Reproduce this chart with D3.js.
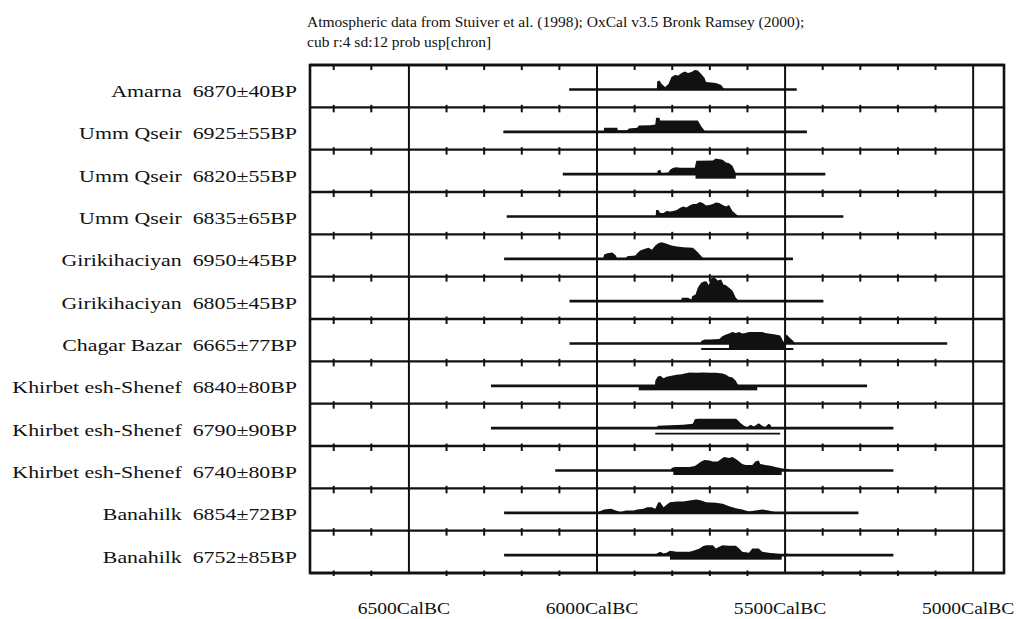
<!DOCTYPE html>
<html>
<head>
<meta charset="utf-8">
<script src="https://cdn.jsdelivr.net/npm/d3@7"></script>
<style>
  body { margin: 0; background: #fff; }
  text { font-family: "Liberation Serif", "Times New Roman", serif; fill: #111; }
</style>
</head>
<body>
<svg id="canvas" width="1021" height="619"></svg>
<script>
let titleLines = [
  "Atmospheric data from Stuiver et al. (1998); OxCal v3.5 Bronk Ramsey (2000);",
  "cub r:4 sd:12 prob usp[chron]"
];

let sites = ["Amarna", "Umm Qseir", "Umm Qseir", "Umm Qseir", "Girikihaciyan", "Girikihaciyan",
  "Chagar Bazar", "Khirbet esh-Shenef", "Khirbet esh-Shenef", "Khirbet esh-Shenef", "Banahilk", "Banahilk"];
let dates = ["6870±40BP", "6925±55BP", "6820±55BP", "6835±65BP", "6950±45BP", "6805±45BP",
  "6665±77BP", "6840±80BP", "6790±90BP", "6740±80BP", "6854±72BP", "6752±85BP"];

// full extent of each calibrated range line (cal BC)
let rangeFrom = [6074, 6249, 6091, 6240, 6247, 6073, 6073, 6282, 6282, 6111, 6247, 6247];
let rangeTo = [5469, 5442, 5393, 5345, 5479, 5398, 5069, 5282, 5212, 5212, 5305, 5212];

// bars drawn under the distributions
let range68 = [null, null, [5738, 5631], null, null, null, [5649, 5500], [5889, 5574], null, [5797, 5509], null, [5806, 5509]];
let range95 = [null, null, null, null, null, null, [5723, 5478], null, [5845, 5513], null, null, null];

// probability distributions: [cal BC, relative probability]
let amarna = [[5841,0],[5840,0.40],[5834,0.45],[5828,0.28],[5819,0.12],[5810,0.28],[5802,0.62],[5793,0.73],[5784,0.70],[5775,0.83],[5767,0.90],[5758,0.83],[5749,0.87],[5740,0.97],[5732,0.95],[5723,0.78],[5714,0.57],[5710,0.37],[5684,0.33],[5670,0.23],[5662,0.03],[5657,0]];
let ummQseir1 = [[5982,0],[5981,0.20],[5946,0.20],[5945,0.08],[5920,0.08],[5915,0.17],[5893,0.20],[5889,0.32],[5858,0.33],[5845,0.37],[5843,0.70],[5834,0.70],[5832,0.57],[5732,0.57],[5723,0.28],[5714,0.05],[5710,0]];
let ummQseir2 = [[5840,0],[5839,0.17],[5832,0.22],[5828,0.05],[5810,0.08],[5806,0.22],[5797,0.32],[5788,0.35],[5780,0.32],[5740,0.32],[5736,0.67],[5692,0.68],[5684,0.78],[5666,0.72],[5657,0.58],[5649,0.55],[5640,0.42],[5631,0.05],[5627,0]];
let ummQseir3 = [[5844,0],[5843,0.33],[5837,0.33],[5832,0.17],[5823,0.17],[5815,0.28],[5806,0.25],[5797,0.28],[5788,0.33],[5780,0.42],[5771,0.50],[5762,0.45],[5754,0.55],[5745,0.62],[5736,0.62],[5727,0.72],[5719,0.67],[5710,0.55],[5701,0.58],[5692,0.62],[5684,0.70],[5675,0.67],[5666,0.58],[5657,0.50],[5649,0.58],[5640,0.28],[5631,0.12],[5622,0]];
let girikihaciyan1 = [[5984,0],[5981,0.22],[5972,0.28],[5959,0.32],[5950,0.17],[5946,0],[5924,0],[5920,0.13],[5898,0.17],[5893,0.28],[5885,0.42],[5872,0.50],[5863,0.55],[5854,0.45],[5845,0.67],[5837,0.78],[5828,0.83],[5815,0.75],[5802,0.67],[5788,0.62],[5771,0.58],[5745,0.55],[5732,0.33],[5719,0.05],[5714,0]];
let girikihaciyan2 = [[5776,0],[5775,0.17],[5758,0.17],[5749,0.08],[5747,0.25],[5738,0.33],[5732,0.67],[5723,0.92],[5714,1.00],[5708,0.97],[5703,0.80],[5697,1.13],[5688,1.20],[5679,1.03],[5670,1.08],[5664,0.83],[5657,0.80],[5649,0.67],[5640,0.53],[5631,0.17],[5622,0]];
let chagarBazar = [[5724,0],[5723,0.12],[5714,0.20],[5701,0.20],[5675,0.23],[5666,0.37],[5657,0.45],[5649,0.50],[5640,0.57],[5631,0.53],[5622,0.57],[5614,0.50],[5605,0.53],[5596,0.57],[5579,0.58],[5561,0.58],[5553,0.53],[5544,0.50],[5526,0.45],[5513,0.40],[5504,0.07],[5500,0.28],[5496,0.45],[5487,0.28],[5478,0.12],[5474,0]];
let khirbet1 = [[5846,0],[5845,0.25],[5839,0.45],[5832,0.50],[5823,0.38],[5815,0.45],[5802,0.50],[5788,0.55],[5775,0.58],[5767,0.62],[5754,0.67],[5736,0.65],[5719,0.67],[5701,0.65],[5684,0.65],[5666,0.62],[5657,0.55],[5649,0.45],[5640,0.42],[5631,0.25],[5624,0]];
let khirbet2 = [[5840,0],[5839,0.12],[5806,0.15],[5771,0.17],[5745,0.22],[5740,0.45],[5732,0.47],[5631,0.47],[5627,0.42],[5618,0.25],[5609,0.12],[5601,0.05],[5592,0.17],[5583,0.08],[5570,0.25],[5561,0.12],[5553,0.05],[5544,0.22],[5539,0.17],[5535,0]];
let khirbet3 = [[5803,0],[5802,0.12],[5793,0.17],[5754,0.17],[5740,0.23],[5732,0.33],[5723,0.45],[5714,0.53],[5701,0.50],[5692,0.45],[5679,0.45],[5670,0.57],[5662,0.67],[5649,0.62],[5640,0.67],[5631,0.57],[5622,0.45],[5614,0.33],[5605,0.28],[5587,0.28],[5579,0.45],[5570,0.50],[5566,0.33],[5553,0.28],[5535,0.23],[5526,0.17],[5513,0.12],[5500,0.07],[5491,0.07],[5483,0]];
let banahilk1 = [[6000,0],[5994,0.07],[5981,0.17],[5963,0.20],[5950,0.12],[5937,0.03],[5924,0.12],[5902,0.12],[5893,0.17],[5876,0.20],[5867,0.28],[5854,0.28],[5845,0.20],[5837,0.53],[5832,0.53],[5823,0.28],[5815,0.40],[5806,0.53],[5788,0.57],[5771,0.57],[5754,0.62],[5736,0.67],[5723,0.62],[5710,0.53],[5684,0.50],[5666,0.45],[5649,0.33],[5631,0.23],[5614,0.17],[5596,0.07],[5579,0.12],[5561,0.17],[5544,0.12],[5526,0.03],[5522,0]];
let banahilk2 = [[5842,0],[5841,0.08],[5832,0.17],[5823,0.08],[5815,0.12],[5806,0.22],[5788,0.17],[5754,0.17],[5740,0.25],[5727,0.33],[5719,0.45],[5710,0.50],[5692,0.50],[5684,0.33],[5675,0.42],[5666,0.50],[5649,0.47],[5631,0.47],[5622,0.33],[5614,0.17],[5596,0.12],[5587,0.33],[5570,0.33],[5561,0.17],[5544,0.12],[5526,0.08],[5509,0.05],[5496,0.08],[5483,0]];

let densities = [amarna, ummQseir1, ummQseir2, ummQseir3, girikihaciyan1, girikihaciyan2,
  chagarBazar, khirbet1, khirbet2, khirbet3, banahilk1, banahilk2];

let gridYears = [6500, 6000, 5500, 5000];
let gridLabels = ["6500CalBC", "6000CalBC", "5500CalBC", "5000CalBC"];
let minorYears = [6700, 6600, 6400, 6300, 6200, 6100, 5900, 5800, 5700, 5600, 5400, 5300, 5200, 5100];


let svg = d3.select("#canvas");

let plotLeft = 310, plotRight = 1004, plotTop = 65, plotBottom = 573;
let baseOffset = 24.5;

let xScale = d3.scaleLinear().domain([6763, 4918]).range([plotLeft, plotRight]);
let rowScale = d3.scaleBand().domain(d3.range(sites.length)).range([plotTop, plotBottom]);
let probScale = d3.scaleLinear().domain([0, 1]).range([0, 20]);
let baseline = (i) => rowScale(i) + baseOffset;

let drawChart = () => {
    // title
    svg.selectAll('.title')
    .data(titleLines)
    .enter()
    .append('text')
    .attr('class', 'title')
    .attr('x', 307)
    .attr('y', (d, i) => 26.5 + i * 20)
    .style('font-size', '15.5px')
    .text((d) => d);

    // vertical grid lines at 500 years
    svg.selectAll('.grid')
    .data(gridYears)
    .enter()
    .append('line')
    .attr('class', 'grid')
    .attr('x1', (d) => xScale(d))
    .attr('x2', (d) => xScale(d))
    .attr('y1', plotTop)
    .attr('y2', plotBottom)
    .attr('stroke', '#111')
    .attr('stroke-width', 2);

    // row separators
    let seps = d3.range(sites.length + 1);
    let sepY = (s) => plotTop + s * rowScale.bandwidth();
    svg.selectAll('.sep')
    .data(seps)
    .enter()
    .append('line')
    .attr('class', 'sep')
    .attr('x1', plotLeft)
    .attr('x2', plotRight)
    .attr('y1', sepY)
    .attr('y2', sepY)
    .attr('stroke', '#111')
    .attr('stroke-width', 2.4);

    // tick marks on every separator
    let ticks = [];
    seps.forEach((s) => {
        minorYears.forEach((yr) => ticks.push({ s: s, yr: yr }));
    });
    svg.selectAll('.tick')
    .data(ticks)
    .enter()
    .append('line')
    .attr('class', 'tick')
    .attr('x1', (d) => xScale(d.yr))
    .attr('x2', (d) => xScale(d.yr))
    .attr('y1', (d) => sepY(d.s) - (d.s === 0 ? 0 : 2.5))
    .attr('y2', (d) => sepY(d.s) + (d.s === sites.length ? 3 : 5))
    .attr('stroke', '#111')
    .attr('stroke-width', 2);

    // labels
    svg.selectAll('.label')
    .data(sites)
    .enter()
    .append('text')
    .attr('class', 'label')
    .attr('transform', (d, i) => 'translate(297,' + (rowScale(i) + 32) + ') scale(1.25,1)')
    .attr('text-anchor', 'end')
    .style('font-size', '17.5px')
    .text((d, i) => d + '\u00a0\u00a0' + dates[i]);

    // range lines
    svg.selectAll('.range')
    .data(sites)
    .enter()
    .append('line')
    .attr('class', 'range')
    .attr('x1', (d, i) => xScale(rangeFrom[i]))
    .attr('x2', (d, i) => xScale(rangeTo[i]))
    .attr('y1', (d, i) => baseline(i))
    .attr('y2', (d, i) => baseline(i))
    .attr('stroke', '#111')
    .attr('stroke-width', 2.6);

    // distributions
    let area = d3.area()
    .x((d) => xScale(d[0]))
    .y0(0)
    .y1((d) => -probScale(d[1]));

    svg.selectAll('.dist')
    .data(densities)
    .enter()
    .append('path')
    .attr('class', 'dist')
    .attr('transform', (d, i) => 'translate(0,' + baseline(i) + ')')
    .attr('d', area)
    .attr('fill', '#111');

    // 68% bars just under the baseline
    svg.selectAll('.r68')
    .data(range68.map((r, i) => ({ r: r, i: i })).filter((d) => d.r))
    .enter()
    .append('rect')
    .attr('class', 'r68')
    .attr('x', (d) => xScale(d.r[0]))
    .attr('width', (d) => xScale(d.r[1]) - xScale(d.r[0]))
    .attr('y', (d) => baseline(d.i))
    .attr('height', 4.5)
    .attr('fill', '#111');

    // 95% lines a little lower
    svg.selectAll('.r95')
    .data(range95.map((r, i) => ({ r: r, i: i })).filter((d) => d.r))
    .enter()
    .append('line')
    .attr('class', 'r95')
    .attr('x1', (d) => xScale(d.r[0]))
    .attr('x2', (d) => xScale(d.r[1]))
    .attr('y1', (d) => baseline(d.i) + 5.5)
    .attr('y2', (d) => baseline(d.i) + 5.5)
    .attr('stroke', '#111')
    .attr('stroke-width', 1.8);

    // frame
    svg.append('rect')
    .attr('x', plotLeft)
    .attr('y', plotTop)
    .attr('width', plotRight - plotLeft)
    .attr('height', plotBottom - plotTop)
    .attr('fill', 'none')
    .attr('stroke', '#111')
    .attr('stroke-width', 2.6);

    // axis labels
    svg.selectAll('.xlab')
    .data(gridLabels)
    .enter()
    .append('text')
    .attr('class', 'xlab')
    .attr('transform', (d, i) => 'translate(' + (xScale(gridYears[i]) - 5) + ',614) scale(1.12,1)')
    .attr('text-anchor', 'middle')
    .style('font-size', '17.5px')
    .text((d) => d);
};

drawChart();
</script>
</body>
</html>
